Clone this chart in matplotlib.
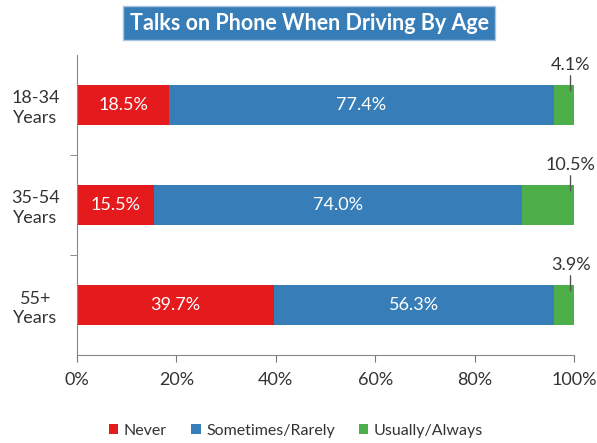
import matplotlib
matplotlib.use("Agg")
import matplotlib.pyplot as plt
import numpy as np

plt.rcParams['font.family'] = ['Lato', 'DejaVu Sans']

categories = ["18-34\nYears", "35-54\nYears", "55+\nYears"]
never = [18.5, 15.5, 39.7]
sometimes = [77.4, 74.0, 56.3]
usually = [4.1, 10.5, 3.9]
series_names = ["Never", "Sometimes/Rarely", "Usually/Always"]
colors = ["#E41A1C", "#377EB8", "#4DAF4A"]
xticks = [0, 20, 40, 60, 80, 100]
title = "Talks on Phone When Driving By Age"

txt = "#333333"
fs = 13
fig = plt.figure(figsize=(5.97, 4.43), dpi=100)
ax = fig.add_axes([77/597, 1-355/443, (574-77)/597, 300/443])

y = np.arange(len(categories))
h = 0.4
never_a = np.array(never)
some_a = np.array(sometimes)
us_a = np.array(usually)
ax.barh(y, never_a, h, color=colors[0], label=series_names[0])
ax.barh(y, some_a, h, left=never_a, color=colors[1], label=series_names[1])
ax.barh(y, us_a, h, left=never_a + some_a, color=colors[2], label=series_names[2])

for i in range(len(categories)):
    ax.text(never_a[i]/2, y[i], f"{never[i]:.1f}%", color="white", ha="center", va="center", fontsize=fs)
    ax.text(never_a[i] + some_a[i]/2, y[i], f"{sometimes[i]:.1f}%", color="white", ha="center", va="center", fontsize=fs)
    ax.annotate(f"{usually[i]:.1f}%", xy=(99.3, y[i] - 0.14), xytext=(99.3, y[i] - 0.4),
                ha="center", va="center", fontsize=fs, color=txt,
                arrowprops=dict(arrowstyle="-", color="#555555", lw=1, shrinkA=0, shrinkB=0))

ax.set_xlim(0, 100)
ax.set_ylim(2.5, -0.5)
ax.set_xticks(xticks)
ax.set_xticklabels([f"{v}%" for v in xticks], fontsize=fs, color=txt)
ax.set_yticks(y)
ax.set_yticklabels(categories, fontsize=fs, color=txt, ha="center", linespacing=1.25)
ax.tick_params(axis="y", length=0, pad=30)
ax.set_yticks([0.5, 1.5], minor=True)
ax.tick_params(axis="y", which="minor", length=5, color="#777777")
ax.tick_params(axis="x", length=5, color="#777777", pad=7)
for s in ["top", "right"]:
    ax.spines[s].set_visible(False)
for s in ["left", "bottom"]:
    ax.spines[s].set_color("#888888")

fig.text(309/597, 1-23/443, title, ha="center", va="center", fontsize=15.5, fontweight="bold",
         color="white",
         bbox=dict(boxstyle="square,pad=0.3", facecolor="#377EB8", edgecolor="#A9C4E0", lw=1))

fig.legend(loc="center", bbox_to_anchor=(296/597, 1-431/443), ncol=3, frameon=False,
           fontsize=11.5, handlelength=0.6, handleheight=0.6, handletextpad=0.35,
           columnspacing=1.5, labelcolor=txt)

fig.savefig("out.png", dpi=100)
